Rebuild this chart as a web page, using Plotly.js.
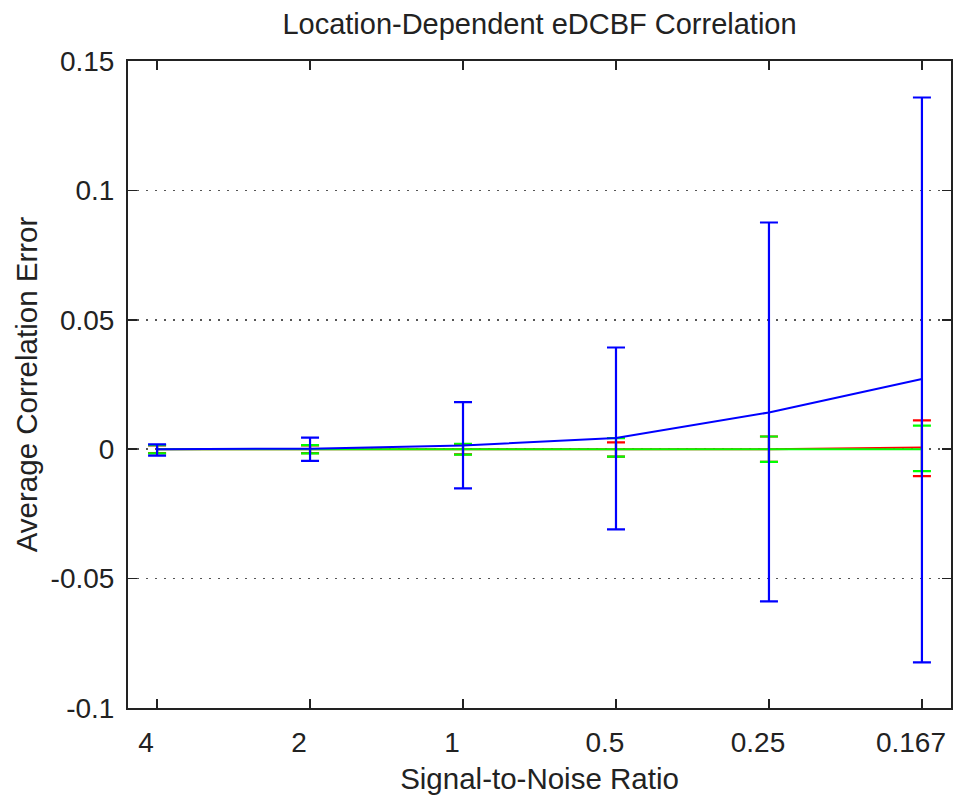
<!DOCTYPE html>
<html>
<head>
<meta charset="utf-8">
<script src="https://cdn.plot.ly/plotly-3.0.1.min.js"></script>
<style>
  html, body { margin: 0; padding: 0; background: #fff; }
  #chart { width: 961px; height: 799px; }
</style>
</head>
<body>
<div id="chart"></div>
<script>
// Signal-to-noise ratio categories (shown left to right)
const snrLabels = ['4', '2', '1', '0.5', '0.25', '0.167'];

// Red series: mean correlation error and its spread
const redMean  = [0, 0, 0, 0, 0, 0.0007];
const redPlus  = [0.0015, 0.0015, 0.002, 0.0026, 0.0049, 0.0104];
const redMinus = [0.0015, 0.0015, 0.002, 0.0029, 0.0049, 0.0111];

// Green series
const greenMean  = [0, 0, 0, 0, 0, 0];
const greenPlus  = [0.0016, 0.0016, 0.0021, 0.0043, 0.0049, 0.0091];
const greenMinus = [0.0016, 0.0016, 0.0021, 0.0029, 0.0049, 0.0085];

// Blue series
const blueMean  = [0, 0.0002, 0.0014, 0.0043, 0.0142, 0.0271];
const bluePlus  = [0.0019, 0.0043, 0.0168, 0.035, 0.0734, 0.1088];
const blueMinus = [0.0025, 0.0047, 0.0165, 0.0353, 0.073, 0.1095];

// Y axis ticks
const yTicks = [-0.1, -0.05, 0, 0.05, 0.1, 0.15];

const xIdx = snrLabels.map((_, i) => i);

function series(mean, plus, minus, color) {
  return {
    type: 'scatter',
    mode: 'lines',
    x: xIdx,
    y: mean,
    line: { color: color, width: 2 },
    error_y: {
      type: 'data',
      symmetric: false,
      array: plus,
      arrayminus: minus,
      color: color,
      thickness: 2.2,
      width: 9
    },
    hoverinfo: 'x+y',
    showlegend: false
  };
}

// red first, green over it, blue on top
const traces = [
  series(redMean, redPlus, redMinus, '#ff0000'),
  series(greenMean, greenPlus, greenMinus, '#00ff00'),
  series(blueMean, bluePlus, blueMinus, '#0000ff')
];

const family = 'Liberation Sans, Arial, sans-serif';
const ink = '#222';

const layout = {
  width: 961,
  height: 799,
  margin: { l: 128, r: 10, t: 61, b: 91 },
  paper_bgcolor: '#fff',
  plot_bgcolor: '#fff',
  font: { family: family, color: ink, size: 28 },
  title: {
    text: 'Location-Dependent eDCBF Correlation',
    font: { family: family, color: ink, size: 29 },
    x: 0.5, xref: 'paper',
    y: 1 - 24 / 799, yref: 'container', yanchor: 'middle'
  },
  xaxis: {
    range: [-0.19, 5.19],
    tickmode: 'array',
    tickvals: xIdx,
    ticktext: snrLabels,
    ticks: 'inside',
    ticklen: 9,
    tickwidth: 1.5,
    tickcolor: ink,
    tickfont: { size: 28 },
    ticklabelshift: -11,
    ticklabelstandoff: 8,
    showgrid: false,
    zeroline: false,
    showline: true,
    linecolor: ink,
    linewidth: 2,
    mirror: 'ticks',
    title: { text: 'Signal-to-Noise Ratio', font: { size: 29.5 }, standoff: 12 }
  },
  yaxis: {
    range: [-0.1, 0.15],
    tickmode: 'array',
    tickvals: yTicks,
    ticktext: yTicks.map(v => String(v)),
    ticks: 'inside',
    ticklen: 9,
    tickwidth: 1.5,
    tickcolor: ink,
    tickfont: { size: 28 },
    ticklabelstandoff: 6,
    showgrid: true,
    gridcolor: '#555',
    gridwidth: 1.5,
    griddash: '2px,7px',
    zeroline: false,
    showline: true,
    linecolor: ink,
    linewidth: 2,
    mirror: 'ticks',
    title: { text: 'Average Correlation Error', font: { size: 29.5 }, standoff: 4 }
  }
};

Plotly.newPlot('chart', traces, layout, { displayModeBar: false, staticPlot: true });
</script>
</body>
</html>
